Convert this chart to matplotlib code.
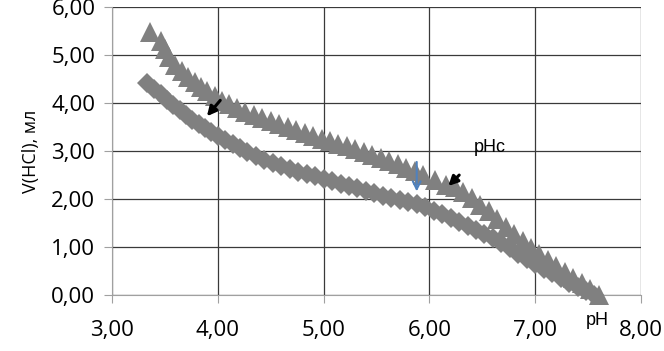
import matplotlib
matplotlib.use('Agg')
import matplotlib.pyplot as plt

plt.rcParams['font.family'] = ['Open Sans', 'DejaVu Sans']

# Triangle series (upper curve)
ph_tri = [3.36, 3.46, 3.50, 3.54, 3.60, 3.66, 3.72, 3.78, 3.84, 3.90,
          3.97, 4.04, 4.11, 4.18, 4.26, 4.34, 4.42, 4.50, 4.58, 4.66,
          4.74, 4.82, 4.90, 4.98, 5.06, 5.14, 5.22, 5.30, 5.38, 5.46,
          5.54, 5.62, 5.70, 5.78, 5.86, 5.94, 6.05, 6.16, 6.24, 6.32,
          6.40, 6.48, 6.56, 6.64, 6.72, 6.80, 6.88, 6.96, 7.04, 7.12,
          7.20, 7.28, 7.36, 7.44, 7.52, 7.60]
v_tri = [5.48, 5.30, 5.12, 4.95, 4.80, 4.66, 4.54, 4.43, 4.33, 4.24,
         4.14, 4.05, 3.97, 3.90, 3.82, 3.75, 3.68, 3.62, 3.56, 3.50,
         3.44, 3.38, 3.32, 3.26, 3.21, 3.15, 3.10, 3.04, 2.98, 2.92,
         2.86, 2.80, 2.72, 2.65, 2.58, 2.50, 2.40, 2.30, 2.24, 2.14,
         2.02, 1.88, 1.74, 1.58, 1.42, 1.27, 1.12, 0.98, 0.85, 0.72,
         0.60, 0.48, 0.36, 0.24, 0.12, 0.00]

# Diamond series (lower curve)
ph_dia = [3.33, 3.40, 3.46, 3.52, 3.58, 3.64, 3.70, 3.76, 3.82, 3.88,
          3.94, 4.00, 4.07, 4.14, 4.21, 4.28, 4.36, 4.44, 4.52, 4.60,
          4.68, 4.76, 4.84, 4.92, 5.00, 5.08, 5.16, 5.24, 5.32, 5.40,
          5.48, 5.56, 5.64, 5.72, 5.80, 5.88, 5.96, 6.04, 6.12, 6.20,
          6.28, 6.36, 6.44, 6.52, 6.60, 6.68, 6.76, 6.84, 6.92, 7.00,
          7.08, 7.16, 7.24, 7.32, 7.40, 7.48, 7.56]
v_dia = [4.42, 4.30, 4.18, 4.06, 3.95, 3.85, 3.75, 3.65, 3.56, 3.47,
         3.39, 3.31, 3.22, 3.14, 3.06, 2.98, 2.90, 2.82, 2.75, 2.69,
         2.63, 2.57, 2.52, 2.47, 2.42, 2.37, 2.32, 2.27, 2.22, 2.17,
         2.12, 2.07, 2.02, 1.98, 1.94, 1.90, 1.84, 1.76, 1.68, 1.60,
         1.52, 1.44, 1.36, 1.28, 1.18, 1.08, 0.97, 0.86, 0.75, 0.65,
         0.55, 0.45, 0.35, 0.26, 0.17, 0.08, 0.00]

x_ticks = [3, 4, 5, 6, 7, 8]
y_ticks = [0, 1, 2, 3, 4, 5, 6]

fig = plt.figure(figsize=(6.64, 3.51), dpi=100)
ax = fig.add_axes([0.1687, 0.1595, 0.7967, 0.8205])

grey = '#808080'
ax.plot(ph_dia, v_dia, linestyle='none', marker='D', markersize=10.5,
        color=grey, markeredgewidth=0, clip_on=False, zorder=3)
ax.plot(ph_tri, v_tri, linestyle='none', marker='^', markersize=14,
        color=grey, markeredgewidth=0, clip_on=False, zorder=3)

ax.set_xlim(3, 8)
ax.set_ylim(0, 6)
ax.set_xticks(x_ticks)
ax.set_yticks(y_ticks)
ax.set_xticklabels([('%.2f' % t).replace('.', ',') for t in x_ticks])
ax.set_yticklabels([('%.2f' % t).replace('.', ',') for t in y_ticks])
ax.tick_params(axis='both', labelsize=16, color='#a0a0a0', length=6, direction='out')
ax.tick_params(axis='x', pad=12)
ax.tick_params(axis='y', pad=6)

ax.grid(True, color='#3a3a3a', linewidth=0.9)
ax.set_axisbelow(True)
for side in ['top', 'right']:
    ax.spines[side].set_visible(False)
ax.spines['left'].set_color('#a0a0a0')
ax.spines['bottom'].set_color('#a0a0a0')

ax.set_ylabel('V(HCl), мл', fontsize=13, labelpad=8)

# arrows and labels
ax.annotate('', xy=(3.88, 3.68), xytext=(4.04, 4.10),
            arrowprops=dict(arrowstyle='-|>', color='black', lw=2.2, mutation_scale=14),
            zorder=5)
ax.annotate('', xy=(6.16, 2.23), xytext=(6.30, 2.54),
            arrowprops=dict(arrowstyle='-|>', color='black', lw=2.2, mutation_scale=14),
            zorder=5)
ax.annotate('', xy=(5.88, 2.10), xytext=(5.88, 2.83),
            arrowprops=dict(arrowstyle='->', color='#4f81bd', lw=1.5, mutation_scale=14),
            zorder=5)
ax.text(6.57, 3.08, 'pHc', fontsize=13, family=['Liberation Sans', 'DejaVu Sans'],
        ha='center', va='center')
ax.text(0.917, -0.09, 'pH', fontsize=13, family=['Liberation Sans', 'DejaVu Sans'],
        ha='center', va='center', transform=ax.transAxes)

fig.savefig('out.png', dpi=100)
